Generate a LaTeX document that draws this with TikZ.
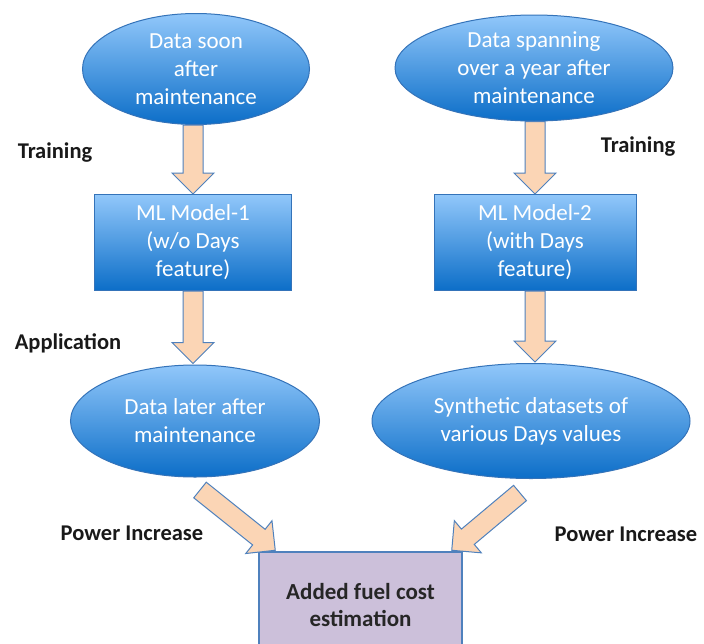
\documentclass[tikz,border=0pt]{standalone}
\usepackage{fontspec}
\setmainfont{Carlito}
\usetikzlibrary{shapes.geometric,calc}
\definecolor{peach}{RGB}{251,213,181}
\definecolor{arrline}{RGB}{79,129,189}
\definecolor{shapeline}{RGB}{52,115,185}
\definecolor{bluetop}{RGB}{145,199,250}
\definecolor{bluebot}{RGB}{12,110,200}
\definecolor{lav}{RGB}{204,192,218}
\tikzset{
  bluefill/.style={top color=bluetop, bottom color=bluebot, draw=shapeline, line width=1pt,
    text=white, font=\fontsize{23}{28}\selectfont, align=center, inner sep=0pt},
  oval/.style={bluefill, ellipse},
  mlbox/.style={bluefill, rectangle},
  resultbox/.style={rectangle, fill=lav, draw=arrline, line width=1.5pt, align=center,
    font=\bfseries\fontsize{23}{27}\selectfont, text=black!85, inner sep=0pt},
  lbl/.style={font=\bfseries\fontsize{22.5}{27}\selectfont, inner sep=0pt, text=black!90},
  arrowstyle/.style={fill=peach, draw=arrline, line width=1pt, line join=miter},
}
\newcommand\blockarr[2]{%
  \coordinate (ba-h) at ($(#2)!21pt!(#1)$);
  \filldraw[arrowstyle] ($(#1)!10pt!90:(#2)$) -- ($(ba-h)!10pt!-90:(#1)$)
    -- ($(ba-h)!21pt!-90:(#1)$) -- (#2) -- ($(ba-h)!21pt!90:(#1)$)
    -- ($(ba-h)!10pt!90:(#1)$) -- ($(#1)!10pt!-90:(#2)$) -- cycle;}
\begin{document}
\begin{tikzpicture}[x=1pt,y=-1pt]
  \clip (0,0) rectangle (704,643);
  \fill[white] (0,0) rectangle (704,643);

  % shapes
  \node[oval, minimum width=227pt, minimum height=111pt] (e1) at (196,69)
    {Data soon\\after\\maintenance};
  \node[oval, minimum width=278pt, minimum height=106pt] (e2) at (534,68)
    {Data spanning\\over a year after\\maintenance};
  \node[mlbox, minimum width=197pt, minimum height=96pt] (b1) at (193,242.5)
    {ML Model-1\\(w/o Days\\feature)};
  \node[mlbox, minimum width=202pt, minimum height=96pt] (b2) at (535,242.5)
    {ML Model-2\\(with Days\\feature)};
  \node[oval, minimum width=249pt, minimum height=112pt] (e3) at (195,421)
    {Data later after\\maintenance};
  \node[oval, minimum width=318pt, minimum height=115pt] (e4) at (531,421)
    {Synthetic datasets of\\various Days values};
  \node[resultbox, minimum width=203pt, minimum height=106pt] (bx) at (360.5,605)
    {Added fuel cost\\estimation};

  % labels
  \node[lbl] (tr1) at (55,153) {Training};
  \node[lbl] (tr2) at (638,147) {Training};
  \node[lbl] (ap) at (68,343) {Application};
  \node[lbl] (pi1) at (132,533) {Power Increase};
  \node[lbl] (pi2) at (626,534) {Power Increase};

  % arrow anchor coordinates
  \coordinate (a1s) at (b1.north |- e1.south);
  \coordinate (a1t) at (b1.north);
  \coordinate (a2s) at (b1.south);
  \coordinate (a2t) at ($(b1.south |- e3.north)+(0,-1)$);
  \coordinate (a3s) at (b2.north |- e2.south);
  \coordinate (a3t) at (b2.north);
  \coordinate (a4s) at (b2.south);
  \coordinate (a4t) at ($(b2.south |- e4.north)+(0,-1)$);
  \coordinate (d1s) at (200,490);
  \coordinate (d1t) at ($(bx.north west)+(17,-1)$);
  \coordinate (d2s) at (520,493);
  \coordinate (d2t) at ($(bx.north east)+(-11,-1)$);

  \blockarr{a1s}{a1t}
  \blockarr{a2s}{a2t}
  \blockarr{a3s}{a3t}
  \blockarr{a4s}{a4t}
  \blockarr{d1s}{d1t}
  \blockarr{d2s}{d2t}
\end{tikzpicture}
\end{document}
